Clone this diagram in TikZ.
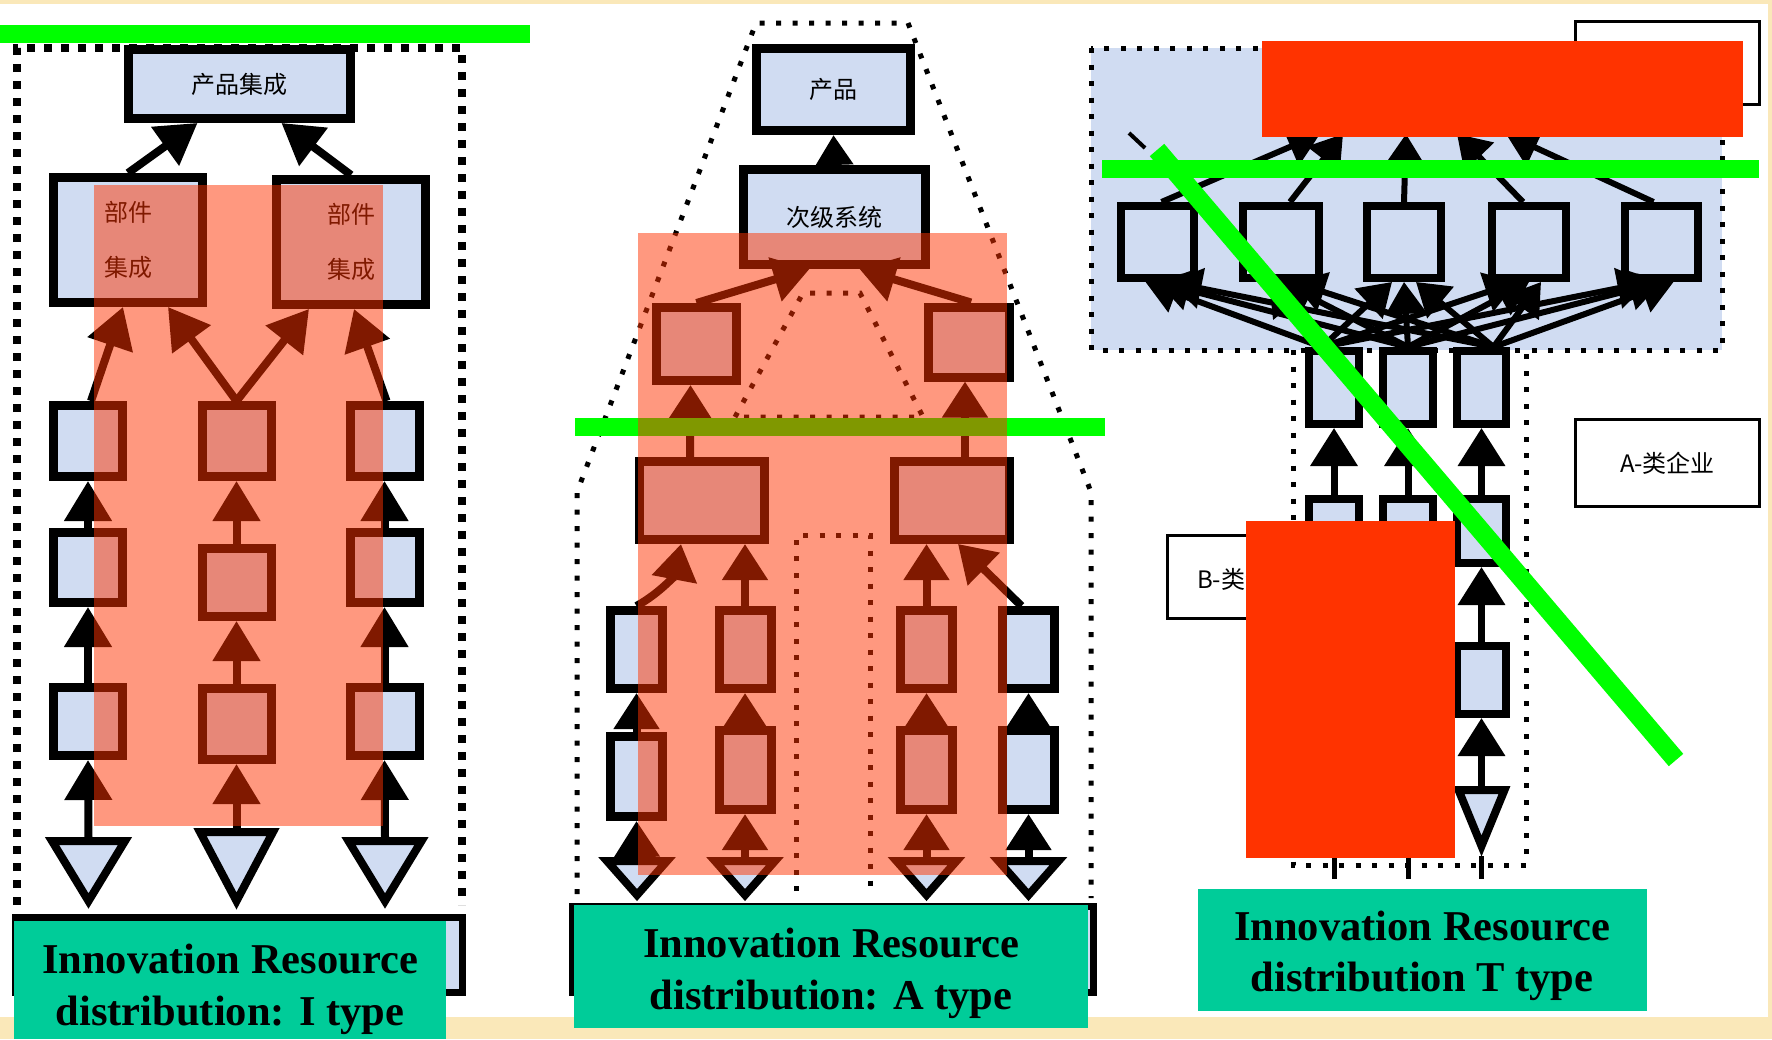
\documentclass[tikz,border=0pt]{standalone}
\usepackage{fontspec}
\setmainfont{Liberation Serif}
\newfontfamily\cjk{Noto Sans CJK SC}
\usetikzlibrary{arrows.meta,calc}
\definecolor{lb}{RGB}{208,220,242}
\definecolor{ovl}{RGB}{255,51,0}
\definecolor{grn}{RGB}{0,255,0}
\definecolor{capc}{RGB}{0,204,153}
\definecolor{beige}{RGB}{250,232,185}
\tikzset{
 ibox/.style={draw, line width=9pt, fill=lb, inner sep=0pt},
 tbox/.style={draw, line width=8pt, fill=lb, inner sep=0pt},
 lbox/.style={draw, line width=3pt, fill=white, inner sep=0pt},
 botbox/.style={draw, line width=7pt, fill=lb, inner sep=0pt},
 trishape/.style={draw, line width=8pt, fill=lb},
 iarr/.style={line width=8pt, -{Triangle[length=40pt,width=46pt]}},
 aarr/.style={line width=8pt, -{Triangle[length=36pt,width=44pt]}},
 sarr/.style={line width=7pt, -{Triangle[length=38pt,width=46pt]}},
 farr/.style={line width=6pt, -{Triangle[length=32pt,width=40pt]}},
 sqdots/.style={line width=8pt, dash pattern=on 8pt off 9pt},
 pdots/.style={line width=5pt, dash pattern=on 5pt off 11.5pt},
 redveil/.style={fill=ovl, fill opacity=0.5},
 capbox/.style={fill=capc, inner sep=0pt, anchor=north west},
 captxt/.style={font=\fontsize{42.5}{52}\selectfont\bfseries, anchor=base, inner sep=0pt},
 cjktxt/.style={font=\fontsize{24}{30}\selectfont\cjk},
}
\newcommand{\dtri}[5]{%
  \draw[trishape] ({#2-#4},#3) -- ({#2+#4},#3) -- (#2,#5) -- cycle;
  \coordinate (#1) at (#2,{#3-4});}
\begin{document}
\begin{tikzpicture}[x=1pt,y=-1pt]
\useasboundingbox (0,0) rectangle (1772,1039);
\fill[white] (0,0) rectangle (1772,1039);
\fill[beige] (0,0) rectangle (1772,4);
\fill[beige] (0,1017) rectangle (1772,1039);
\fill[beige] (1768,0) rectangle (1772,1039);

% ================= I type =================
\draw[sqdots] (17,905) -- (17,48) -- (462,48) -- (462,905);
\node[ibox, minimum width=222pt, minimum height=69pt, cjktxt] (iA) at (239.5,84) {产品集成};
\node[ibox, minimum width=149pt, minimum height=125pt, align=center, font=\fontsize{24}{55}\selectfont\cjk] (iBL) at (128,240) {部件\\集成};
\node[ibox, minimum width=149pt, minimum height=125pt, align=center, font=\fontsize{24}{55}\selectfont\cjk] (iBR) at (351,242) {部件\\集成};
\node[ibox, minimum width=69pt, minimum height=71pt] (iCL) at (88,441) {};
\node[ibox, minimum width=69pt, minimum height=71pt] (iCM) at (236.5,441) {};
\node[ibox, minimum width=69pt, minimum height=71pt] (iCR) at (384.5,441) {};
\node[ibox, minimum width=69pt, minimum height=70pt] (iDL) at (88,567.5) {};
\node[ibox, minimum width=69pt, minimum height=68pt] (iDM) at (236.5,582.5) {};
\node[ibox, minimum width=69pt, minimum height=70pt] (iDR) at (384.5,567.5) {};
\node[ibox, minimum width=69pt, minimum height=68pt] (iEL) at (88,721.5) {};
\node[ibox, minimum width=69pt, minimum height=71pt] (iEM) at (236.5,724) {};
\node[ibox, minimum width=69pt, minimum height=68pt] (iER) at (384.5,721.5) {};
\dtri{iTL}{88.5}{841}{36.5}{901}
\dtri{iTM}{236.5}{832}{36.5}{901}
\dtri{iTR}{385}{841}{36.5}{901}
\node[botbox, minimum width=447pt, minimum height=75pt] (iBot) at (239,955) {};
\draw[iarr] (iBL.north) -- ([xshift=-42pt]iA.south);
\draw[iarr] (iBR.north) -- ([xshift=42pt]iA.south);
\draw[iarr] ([xshift=3pt]iCL.north) -- ([xshift=-5pt]iBL.south);
\draw[iarr] (iCM.north) -- ([xshift=40pt]iBL.south);
\draw[iarr] (iCM.north) -- ([xshift=-42pt]iBR.south);
\draw[iarr] ([xshift=2pt]iCR.north) -- ([xshift=3pt]iBR.south);
\draw[iarr] (iDL.north) -- (iCL.south);
\draw[iarr] (iDM.north) -- (iCM.south);
\draw[iarr] (iDR.north) -- (iCR.south);
\draw[iarr] (iEL.north) -- (iDL.south);
\draw[iarr] (iEM.north) -- (iDM.south);
\draw[iarr] (iER.north) -- (iDR.south);
\draw[iarr] (iTL) -- (iEL.south);
\draw[iarr] (iTM) -- (iEM.south);
\draw[iarr] (iTR) -- (iER.south);
\fill[grn] (0,25) rectangle (530,43);
\fill[redveil] (94,185) rectangle (383,826);

% ================= A type =================
\draw[pdots] (577,894) -- (577,492) -- (756,23) -- (908,23) -- (1091,492) -- (1091,898);
\draw[pdots] (735,417) -- (803,293) -- (860,293) -- (923,417) -- cycle;
\draw[pdots] (796,891) -- (796,535) -- (870,535) -- (870,891);
\node[ibox, minimum width=154pt, minimum height=82pt, cjktxt] (aA) at (833.5,89.5) {产品};
\node[ibox, minimum width=182pt, minimum height=95pt, cjktxt] (aB) at (834.5,217) {次级系统};
\node[ibox, minimum width=80pt, minimum height=73pt] (aCL) at (696.5,344) {};
\node[ibox, minimum width=81pt, minimum height=70pt] (aCR) at (969,342) {};
\node[ibox, minimum width=125pt, minimum height=78pt] (aDL) at (702,500.5) {};
\node[ibox, minimum width=115pt, minimum height=78pt] (aDR) at (952,500.5) {};
\node[ibox, minimum width=52pt, minimum height=78pt] (aE1) at (636.5,649.5) {};
\node[ibox, minimum width=52pt, minimum height=78pt] (aE2) at (745,649.5) {};
\node[ibox, minimum width=52pt, minimum height=78pt] (aE3) at (926.5,649.5) {};
\node[ibox, minimum width=52pt, minimum height=78pt] (aE4) at (1028.5,649.5) {};
\node[ibox, minimum width=52pt, minimum height=80pt] (aF1) at (636.5,776.5) {};
\node[ibox, minimum width=52pt, minimum height=79pt] (aF2) at (745,770) {};
\node[ibox, minimum width=52pt, minimum height=79pt] (aF3) at (926.5,770) {};
\node[ibox, minimum width=52pt, minimum height=79pt] (aF4) at (1028.5,770) {};
\dtri{aT1}{637}{861}{30}{895}
\dtri{aT2}{745}{861}{30}{895}
\dtri{aT3}{926.5}{861}{30}{895}
\dtri{aT4}{1028.5}{861}{30}{895}
\node[botbox, minimum width=521pt, minimum height=86pt] (aBot) at (833,949.5) {};
\draw[line width=8pt, -{Triangle[length=30pt,width=36pt]}] (aB.north) -- (aA.south);
\draw[aarr] (aCL.north) -- ([xshift=-25pt]aB.south);
\draw[aarr] ([xshift=2pt]aCR.north) -- ([xshift=25pt]aB.south);
\draw[aarr] ([xshift=-12pt]aDL.north) -- ([xshift=-6pt]aCL.south);
\draw[aarr] ([xshift=13pt]aDR.north) -- ([xshift=-4pt]aCR.south);
\draw[aarr] (aE1.north) to[bend right=25] ([xshift=-21pt]aDL.south);
\draw[aarr] (aE2.north) -- ([xshift=43pt]aDL.south);
\draw[aarr] (aE3.north) -- ([xshift=-25.5pt]aDR.south);
\draw[aarr] ([xshift=-7pt]aE4.north) -- ([xshift=6pt]aDR.south);
\draw[aarr] (aF1.north) -- (aE1.south);
\draw[aarr] (aF2.north) -- (aE2.south);
\draw[aarr] (aF3.north) -- (aE3.south);
\draw[aarr] (aF4.north) -- (aE4.south);
\draw[aarr] (aT1) -- (aF1.south);
\draw[aarr] (aT2) -- (aF2.south);
\draw[aarr] (aT3) -- (aF3.south);
\draw[aarr] (aT4) -- (aF4.south);
\fill[grn] (575,418) rectangle (1105,436);
\fill[redveil] (638,233) rectangle (1007,875);

% ================= T type =================
\fill[lb] (1091,48) rectangle (1722,350);
\draw[pdots] (1091,48) rectangle (1722,350);
\draw[pdots] (1293,350) -- (1293,865) -- (1526,865) -- (1526,350);
\node[lbox, minimum width=184pt, minimum height=83pt] (tLA) at (1667.5,63) {};
\node[tbox, minimum width=212pt, minimum height=76pt] (tTop) at (1410,92) {};
\node[tbox, minimum width=73pt, minimum height=72pt] (tU1) at (1157.5,242) {};
\node[tbox, minimum width=76pt, minimum height=72pt] (tU2) at (1281,242) {};
\node[tbox, minimum width=74pt, minimum height=72pt] (tU3) at (1404,242) {};
\node[tbox, minimum width=74pt, minimum height=72pt] (tU4) at (1529,242) {};
\node[tbox, minimum width=73pt, minimum height=72pt] (tU5) at (1661.5,242) {};
\node[tbox, minimum width=50pt, minimum height=73pt] (tS1) at (1334,387.5) {};
\node[tbox, minimum width=50pt, minimum height=73pt] (tS2) at (1408,387.5) {};
\node[tbox, minimum width=49pt, minimum height=73pt] (tS3) at (1481.5,387.5) {};
\node[tbox, minimum width=50pt, minimum height=64pt] (tR1) at (1334,531) {};
\node[tbox, minimum width=50pt, minimum height=64pt] (tR2) at (1408,531) {};
\node[tbox, minimum width=49pt, minimum height=64pt] (tR3) at (1481.5,531) {};
\node[tbox, minimum width=50pt, minimum height=68pt] (tQ1) at (1334,680) {};
\node[tbox, minimum width=50pt, minimum height=68pt] (tQ2) at (1408,680) {};
\node[tbox, minimum width=49pt, minimum height=68pt] (tQ3) at (1481.5,680) {};
\dtri{tT1}{1334}{790}{23}{846}
\dtri{tT2}{1408}{790}{23}{846}
\dtri{tT3}{1481.5}{790}{23}{846}
\draw[line width=5pt] (1334,856) -- (1334,879);
\draw[line width=5pt] (1408,856) -- (1408,879);
\draw[line width=5pt] (1481.5,856) -- (1481.5,879);
\draw[farr] ([xshift=4pt]tU1.north) -- ([xshift=-90pt]tTop.south);
\draw[farr] ([xshift=9pt]tU2.north) -- ([xshift=-67pt]tTop.south);
\draw[farr] (tU3.north) -- ([xshift=-4pt]tTop.south);
\draw[farr] ([xshift=-6pt]tU4.north) -- ([xshift=47pt]tTop.south);
\draw[farr] ([xshift=-8pt]tU5.north) -- ([xshift=96pt]tTop.south);
\draw[line width=4pt] (1129,133) -- (1145,148);
\foreach \s/\d in {tS1/-12,tS2/0,tS3/12}{
  \foreach \u in {tU1,tU2,tU3,tU4,tU5}{
    \draw[farr] ([xshift=\d pt]\s.north) -- ([xshift=\d pt]\u.south);
  }
}
\draw[sarr] (tR1.north) -- (tS1.south);
\draw[sarr] (tR2.north) -- (tS2.south);
\draw[sarr] (tR3.north) -- (tS3.south);
\draw[sarr] (tQ1.north) -- (tR1.south);
\draw[sarr] (tQ2.north) -- (tR2.south);
\draw[sarr] (tQ3.north) -- (tR3.south);
\draw[sarr] (tT1) -- (tQ1.south);
\draw[sarr] (tT2) -- (tQ2.south);
\draw[sarr] (tT3) -- (tQ3.south);
\node[lbox, minimum width=131pt, minimum height=83pt] (tLB) at (1233,577) {};
\node[cjktxt, anchor=west, inner sep=0pt] (tLBt) at (1197,579) {B-类企业};
\node[lbox, minimum width=184pt, minimum height=87pt, cjktxt] (tLA2) at (1667.5,463) {A-类企业};
\fill[ovl] (1262,41) rectangle (1743,137);
\fill[ovl] (1246,521) rectangle (1455,858);
\fill[grn] (1102,160) rectangle (1759,178);
\draw[grn, line width=19pt] (1157,150) -- (1676,760);

% ================= captions =================
\node[capbox, minimum width=432pt, minimum height=118pt] (iCap) at (14,921) {};
\node[captxt] (iCap1) at (230,973) {Innovation Resource};
\node[captxt] (iCap2) at (230,1025) {distribution: I type};
\node[capbox, minimum width=514pt, minimum height=123pt] (aCap) at (574,905) {};
\node[captxt] (aCap1) at (831,957) {Innovation Resource};
\node[captxt] (aCap2) at (831,1009) {distribution: A type};
\node[capbox, minimum width=449pt, minimum height=122pt] (tCap) at (1198,889) {};
\node[captxt] (tCap1) at (1422,940) {Innovation Resource};
\node[captxt] (tCap2) at (1422,991) {distribution T type};
\end{tikzpicture}
\end{document}
